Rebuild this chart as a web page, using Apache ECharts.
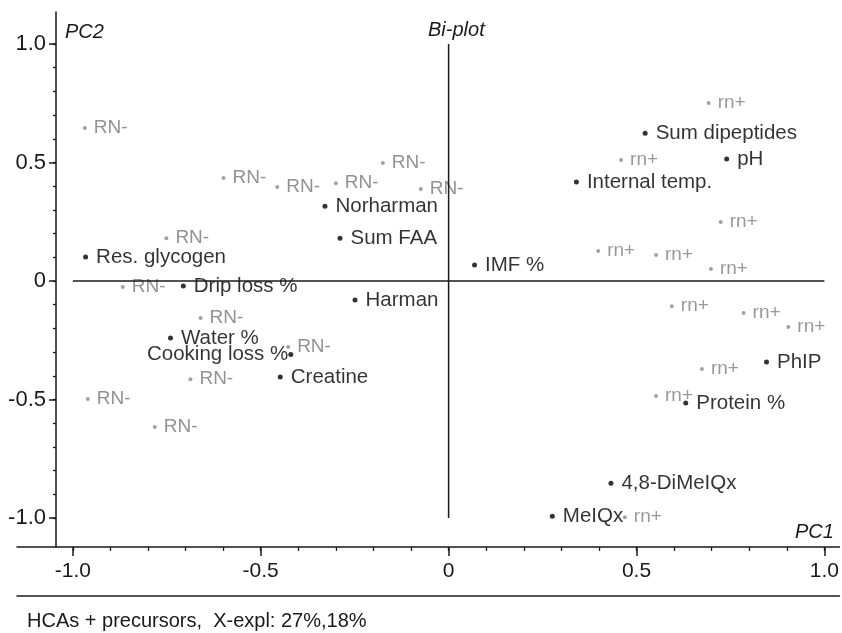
<!DOCTYPE html>
<html>
<head>
<meta charset="utf-8">
<script src="https://cdn.jsdelivr.net/npm/echarts@6/dist/echarts.min.js"></script>
<style>html,body{margin:0;padding:0;background:#fff}#c{width:842px;height:633px}</style>
</head>
<body>
<div id="c"></div>
<script>
// Sample scores (PC1, PC2)
var rnMinus = [[-0.968,0.646],[-0.599,0.435],[-0.456,0.397],[-0.300,0.413],[-0.175,0.498],[-0.074,0.388],[-0.751,0.181],[-0.867,-0.025],[-0.660,-0.156],[-0.427,-0.278],[-0.687,-0.414],[-0.960,-0.498],[-0.782,-0.616]];
var rnPlus = [[0.692,0.751],[0.459,0.511],[0.724,0.249],[0.398,0.127],[0.552,0.110],[0.698,0.051],[0.594,-0.106],[0.785,-0.135],[0.904,-0.194],[0.674,-0.371],[0.552,-0.485],[0.469,-0.996]];
// Variable loadings
var varNames = ["Sum dipeptides","pH","Internal temp.","IMF %","Norharman","Sum FAA","Res. glycogen","Drip loss %","Harman","Water %","Cooking loss %","Creatine","PhIP","Protein %","4,8-DiMeIQx","MeIQx"];
var varPC1 = [0.523,0.740,0.340,0.069,-0.329,-0.289,-0.966,-0.706,-0.249,-0.740,-0.420,-0.448,0.846,0.631,0.432,0.276];
var varPC2 = [0.624,0.515,0.418,0.068,0.316,0.181,0.101,-0.021,-0.080,-0.240,-0.310,-0.405,-0.342,-0.515,-0.853,-0.992];
var leftLabelled = ["Cooking loss %"];
// Cross lines
var hLine = [[-1,0],[1,0]];
var vLine = [[0,1],[0,-1]];
// Ticks
var majorTicks = [-1,-0.5,0,0.5,1];
var majorLabels = ["-1.0","-0.5","0","0.5","1.0"];
var minorTicks = [-1,-0.9,-0.8,-0.7,-0.6,-0.5,-0.4,-0.3,-0.2,-0.1,0,0.1,0.2,0.3,0.4,0.5,0.6,0.7,0.8,0.9,1];
var caption = "HCAs + precursors,  X-expl: 27%,18%";

var FONT = '"Liberation Sans", Arial, sans-serif';
var INK = '#1a1a1a';
function fmt(v){ var i = majorTicks.indexOf(Math.round(v*10)/10); return i >= 0 ? majorLabels[i] : ''; }

var varData = varNames.map(function(n,i){
  var d = {name:n, value:[varPC1[i], varPC2[i]]};
  if (leftLabelled.indexOf(n) >= 0) d.label = {position:'left', distance:0};
  return d;
});

var X_MIN = -1.1485, X_MAX = 1.04, Y_MIN = -1.122, Y_MAX = 1.135;

var chart = echarts.init(document.getElementById('c'), null, {renderer:'canvas'});
chart.setOption({
  animation:false,
  backgroundColor:'#fff',
  textStyle:{fontFamily:FONT},
  title:[
    {text:caption, left:27, top:611, padding:0, textStyle:{fontFamily:FONT, fontSize:20, fontWeight:'normal', color:INK}},
    {text:'PC2', left:65, top:22, padding:0, textStyle:{fontFamily:FONT, fontSize:20, fontWeight:'normal', fontStyle:'italic', color:INK}},
    {text:'Bi-plot', left:428, top:20, padding:0, textStyle:{fontFamily:FONT, fontSize:20, fontWeight:'normal', fontStyle:'italic', color:INK}},
    {text:'PC1', left:795, top:522, padding:0, textStyle:{fontFamily:FONT, fontSize:20, fontWeight:'normal', fontStyle:'italic', color:INK}}
  ],
  grid:{left:17, right:0, top:12, bottom:86},
  xAxis:[
    {type:'value', min:X_MIN, max:X_MAX, position:'bottom', splitLine:{show:false},
     axisLine:{show:true, onZero:false, lineStyle:{color:INK, width:1.5}},
     axisTick:{show:true, customValues:majorTicks, length:9, lineStyle:{color:INK, width:1.5}},
     axisLabel:{show:true, customValues:majorTicks, formatter:fmt, fontSize:21, color:INK, margin:14, fontFamily:FONT}},
    {type:'value', min:X_MIN, max:X_MAX, position:'bottom', splitLine:{show:false},
     axisLine:{show:false, onZero:false}, axisTick:{show:true, customValues:minorTicks, length:4, lineStyle:{color:INK, width:1.3}},
     axisLabel:{show:false}},
    {type:'value', min:X_MIN, max:X_MAX, position:'bottom', offset:49, splitLine:{show:false},
     axisLine:{show:true, onZero:false, lineStyle:{color:INK, width:1.5}}, axisTick:{show:false}, axisLabel:{show:false}}
  ],
  yAxis:[
    {type:'value', min:Y_MIN, max:Y_MAX, position:'left', offset:-39, splitLine:{show:false},
     axisLine:{show:true, onZero:false, lineStyle:{color:INK, width:1.5}},
     axisTick:{show:true, customValues:majorTicks, length:7, lineStyle:{color:INK, width:1.5}},
     axisLabel:{show:true, customValues:majorTicks, formatter:fmt, fontSize:22, color:INK, margin:10, fontFamily:FONT}},
    {type:'value', min:Y_MIN, max:Y_MAX, position:'left', offset:-39, splitLine:{show:false},
     axisLine:{show:false, onZero:false}, axisTick:{show:true, customValues:minorTicks, length:3, lineStyle:{color:INK, width:1.3}},
     axisLabel:{show:false}}
  ],
  series:[
    {type:'line', data:hLine, symbol:'none', silent:true, lineStyle:{color:INK, width:1.5}},
    {type:'line', data:vLine, symbol:'none', silent:true, lineStyle:{color:INK, width:1.5}},
    {type:'scatter', data:rnMinus, symbolSize:4, itemStyle:{color:'#8a8a8a'},
     label:{show:true, formatter:'RN-', position:'right', distance:7, color:'#777', fontSize:19, fontFamily:FONT}},
    {type:'scatter', data:rnPlus, symbolSize:4, itemStyle:{color:'#8a8a8a'},
     label:{show:true, formatter:'rn+', position:'right', distance:7, color:'#808080', fontSize:19, fontFamily:FONT}},
    {type:'scatter', data:varData, symbolSize:5, itemStyle:{color:'#000'},
     label:{show:true, formatter:'{b}', position:'right', distance:8, color:'#000', fontSize:20.5, fontFamily:FONT}}
  ]
});
</script>
</body>
</html>
